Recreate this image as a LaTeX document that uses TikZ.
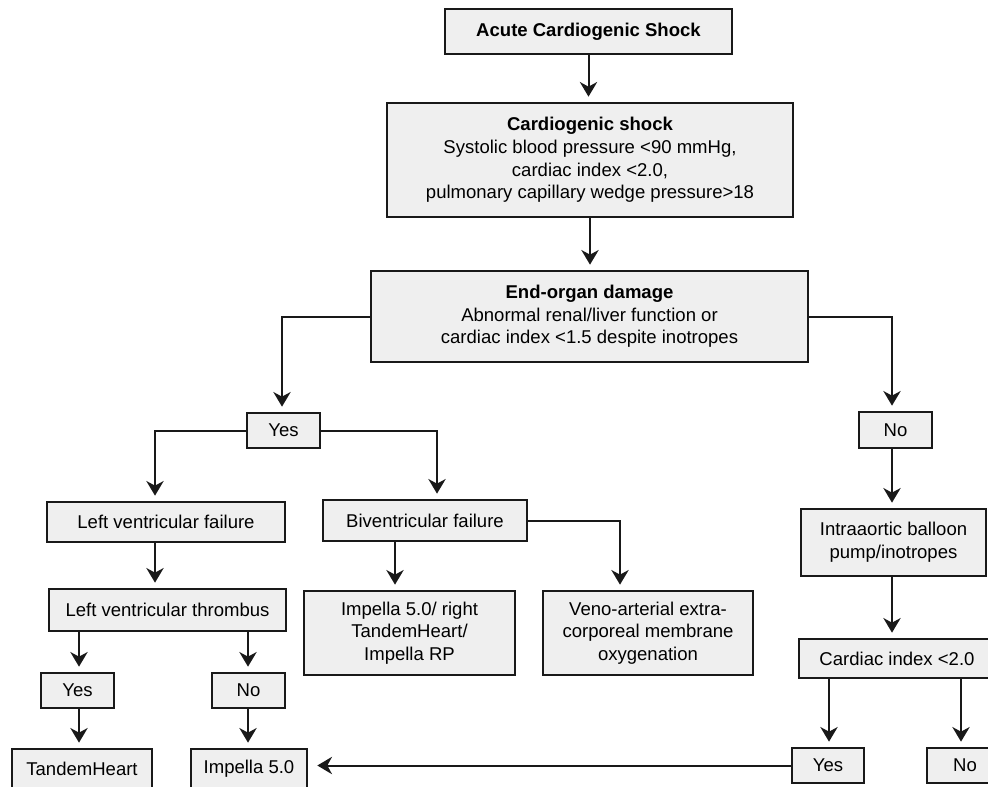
\documentclass[tikz,border=0pt]{standalone}
\usepackage{fontspec}
\setmainfont{Liberation Sans}
\usetikzlibrary{arrows.meta}
\definecolor{boxfill}{RGB}{239,239,239}
\definecolor{ink}{RGB}{25,25,25}
\tikzset{
  box/.style={draw=ink, line width=1.5pt, fill=boxfill, inner sep=0pt, align=center,
              font=\fontsize{13.9}{17}\selectfont},
  arr/.style={draw=ink, line width=1.5pt, -{Stealth[length=11pt,width=13pt,inset=3.5pt]}, shorten >=4pt},
  ln/.style={draw=ink, line width=1.5pt}
}
\begin{document}
\begin{tikzpicture}[x=0.75pt,y=-0.75pt]
\useasboundingbox (0,0) rectangle (988,786);
% nodes
\node[box, minimum width=215.25pt, minimum height=33.75pt] (A) at (588.5,31.5) {\textbf{Acute Cardiogenic Shock}};
\node[box, minimum width=304.5pt, minimum height=85.5pt] (B) at (590,160) {\textbf{Cardiogenic shock}\\Systolic blood pressure <90 mmHg,\\cardiac index <2.0,\\pulmonary capillary wedge pressure>18};
\node[box, minimum width=327.75pt, minimum height=68.25pt] (C) at (589.5,316.5) {\textbf{End-organ damage}\\Abnormal renal/liver function or\\cardiac index <1.5 despite inotropes};
\node[box, minimum width=54.75pt, minimum height=26.25pt] (Y1) at (283.5,430.5) {Yes};
\node[box, minimum width=54.75pt, minimum height=27pt] (N1) at (895.5,430) {No};
\node[box, minimum width=178.5pt, minimum height=30pt] (LVF) at (166,522) {Left ventricular failure};
\node[box, minimum width=153pt, minimum height=30.75pt] (BF) at (425,520.5) {Biventricular failure};
\node[box, minimum width=138.75pt, minimum height=50.25pt] (IABP) at (893.5,542.5) {Intraaortic balloon\\pump/inotropes};
\node[box, minimum width=147pt, minimum height=29.25pt] (CI) at (897,658.5) {Cardiac index <2.0};
\node[box, minimum width=177.75pt, minimum height=31.5pt] (LVT) at (167.5,610) {Left ventricular thrombus};
\node[box, minimum width=158.25pt, minimum height=63pt] (Imp) at (409.5,633) {Impella 5.0/ right\\TandemHeart/\\Impella RP};
\node[box, minimum width=157.5pt, minimum height=63pt] (ECMO) at (648,633) {Veno-arterial extra-\\corporeal membrane\\oxygenation};
\node[box, minimum width=54.75pt, minimum height=26.25pt] (Y3) at (77.5,690.5) {Yes};
\node[box, minimum width=54.75pt, minimum height=26.25pt] (N3) at (248.5,690.5) {No};
\node[box, minimum width=105pt, minimum height=30pt] (TH) at (82,769) {TandemHeart};
\node[box, minimum width=87pt, minimum height=30pt] (I5) at (249,769) {Impella 5.0};
\node[box, minimum width=54pt, minimum height=26.25pt] (Y2) at (828,765.5) {Yes};
\node[box, minimum width=57pt, minimum height=26.25pt] (N2) at (965,765.5) {No};
% helper x positions
\coordinate (xa) at (155,0);
\coordinate (xb) at (437,0);
\coordinate (xc) at (395,0);
\coordinate (xd) at (620,0);
\coordinate (xe) at (79,0);
\coordinate (xf) at (248,0);
\coordinate (xg) at (282,0);
\coordinate (xh) at (892,0);
\coordinate (xi) at (829,0);
\coordinate (xj) at (961,0);
% connectors
\draw[arr] (A.south) -- (A.south |- B.north);
\draw[arr] (B.south) -- (B.south |- C.north);
\draw[arr] (C.west) -| (xg |- Y1.north);
\draw[arr] (C.east) -| (xh |- N1.north);
\draw[arr] (Y1.west) -| (xa |- LVF.north);
\draw[arr] (Y1.east) -| (xb |- BF.north);
\draw[arr] (LVF.south -| xa) -- (LVT.north -| xa);
\draw[arr] (BF.south -| xc) -- (Imp.north -| xc);
\draw[arr] (BF.east) -| (xd |- ECMO.north);
\draw[arr] (LVT.south -| xe) -- (Y3.north -| xe);
\draw[arr] (LVT.south -| xf) -- (N3.north -| xf);
\draw[arr] (Y3.south -| xe) -- (TH.north -| xe);
\draw[arr] (N3.south -| xf) -- (I5.north -| xf);
\draw[arr] (N1.south -| xh) -- (IABP.north -| xh);
\draw[arr] (IABP.south -| xh) -- (CI.north -| xh);
\draw[arr] (CI.south -| xi) -- (Y2.north -| xi);
\draw[arr] (CI.south -| xj) -- (N2.north -| xj);
\draw[arr, shorten >=7pt] (Y2.west) -- (Y2.west -| I5.east);
\end{tikzpicture}
\end{document}
